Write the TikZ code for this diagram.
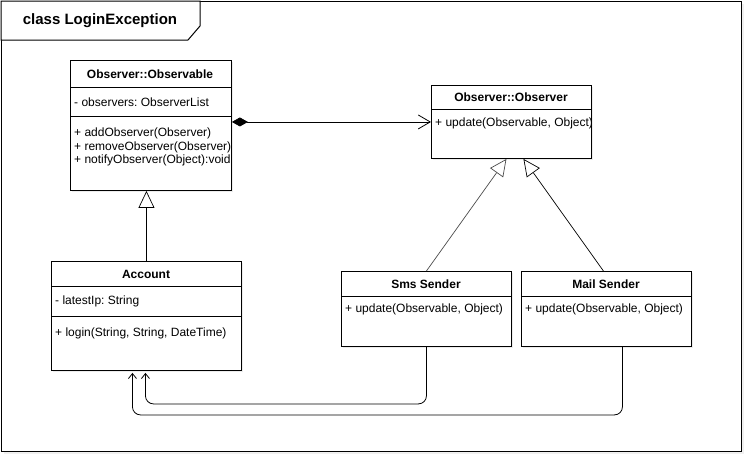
\documentclass[tikz,border=0pt]{standalone}
\usepackage{fontspec}
\setmainfont{Liberation Sans}
\usepackage{tikz}
\usetikzlibrary{shadows}
\usetikzlibrary{positioning}
\usetikzlibrary{arrows.meta,calc}
\frenchspacing
\tikzstyle{classbox}=[draw,fill=white,line width=0.9pt,inner sep=0pt,anchor=north west,drop shadow={opacity=0.15,shadow xshift=2pt,shadow yshift=-2pt}]
\tikzstyle{classname}=[font=\fontsize{12}{14}\selectfont\bfseries,inner sep=0pt]
\tikzstyle{member}=[font=\fontsize{12}{14}\selectfont,inner sep=0pt,anchor=west]
\tikzstyle{inherit}=[-{Triangle[open,fill=white,length=17pt,width=16pt]},line width=0.7pt]

\begin{document}
\begin{tikzpicture}[x=1pt,y=-1pt]

  \useasboundingbox (0,0) rectangle (752,463);

% frame and title tab
  \draw[line width=1pt,fill=white,drop shadow={opacity=0.12,shadow xshift=3pt,shadow yshift=-3pt}] (1,1) rectangle (741,451);
  \draw[line width=1pt,fill=white] (1,1) -- (200,1) -- (200,26) -- (188,40) -- (1,40) -- cycle;
  \node[font=\fontsize{15}{17}\selectfont\bfseries] (title) at (100,21) {class LoginException};

% classes
  \node[classbox,minimum width=161pt,minimum height=130pt] (observable) at (70,60) {};
  \node[classbox,minimum width=160pt,minimum height=73pt] (observer) at (431,85) {};
  \node[classbox,minimum width=190pt,minimum height=109pt] (account) at (51,261) {};
  \node[classbox,minimum width=170pt,minimum height=75pt] (sms) at (341,271) {};
  \node[classbox,minimum width=170pt,minimum height=75pt] (mail) at (521,271) {};

% compartments
  \draw[line width=0.9pt] (70,87) -- (231,87) (70,116) -- (231,116);
  \draw[line width=0.9pt] (431,109) -- (591,109);
  \draw[line width=0.9pt] (51,286) -- (241,286) (51,316) -- (241,316);
  \draw[line width=0.9pt] (341,296) -- (511,296);
  \draw[line width=0.9pt] (521,296) -- (691,296);

  \node[classname] (observablename) at (150,74) {Observer::Observable};
  \node[classname] (observername) at (511,97) {Observer::Observer};
  \node[classname] (accountname) at (146,274) {Account};
  \node[classname] (smsname) at (426,284) {Sms Sender};
  \node[classname] (mailname) at (606,284) {Mail Sender};

  \begin{scope}
    \clip (observable.north west) rectangle (observable.south east);
    \node[member] (observers) at (74,102) {- observers: ObserverList};
    \foreach \y/\txt in {133/{+ addObserver(Observer)}, 147/{+ removeObserver(Observer)}, 160/{+ notifyObserver(Object):void}}
        \node[member] at (74,\y) {\txt};
  \end{scope}
  \begin{scope}
    \clip (observer.north west) rectangle (observer.south east);
    \node[member] (observerupdate) at (435,123) {+ update(Observable, Object)};
  \end{scope}

  \node[member] (latestip) at (55,301) {- latestIp: String};
  \node[member] (login) at (55,333) {+ login(String, String, DateTime)};
  \node[member] (smsupdate) at (345,309) {+ update(Observable, Object)};
  \node[member] (mailupdate) at (525,309) {+ update(Observable, Object)};

% relations
  \draw[{Diamond[length=16pt,width=9pt]}-{Straight Barb[length=12pt,width=14pt]},line width=0.8pt] (observable.east |- observer.west) -- (observer.west);
  \draw[inherit] (account.north) -- (account.north |- observable.south);
  \draw[inherit,black!70] (sms.north) -- ($(observer.south)+(-5,0)$);
  \draw[inherit] ($(mail.north)+(-3,0)$) -- ($(observer.south)+(12,0)$);

  \draw[-{Straight Barb[length=5pt,width=8pt]},line width=0.8pt,rounded corners=8pt,shorten >=2pt] (sms.south) -- ++(0,57) -| ($(account.south)+(-1,0)$);
  \draw[-{Straight Barb[length=5pt,width=8pt]},line width=0.8pt,rounded corners=8pt,shorten >=2pt] ($(mail.south)+(16,0)$) -- ++(0,68) -| ($(account.south)+(-14,0)$);

\end{tikzpicture}
\end{document}
